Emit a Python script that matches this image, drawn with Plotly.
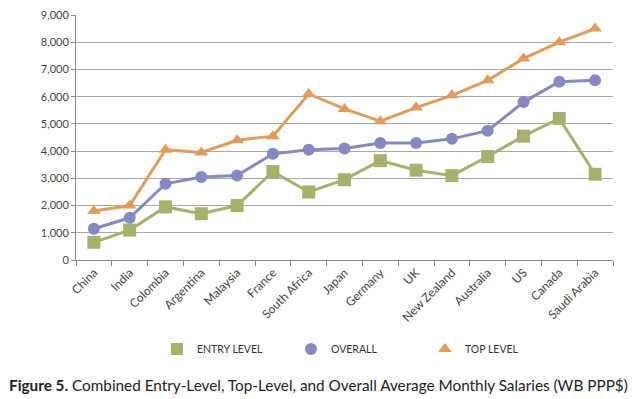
import plotly.graph_objects as go

countries = ["China", "India", "Colombia", "Argentina", "Malaysia", "France",
             "South Africa", "Japan", "Germany", "UK", "New Zealand", "Australia",
             "US", "Canada", "Saudi Arabia"]
entry_level = [650, 1100, 1950, 1700, 2000, 3250, 2500, 2950, 3650, 3300, 3100, 3800, 4550, 5200, 3150]
overall = [1150, 1550, 2800, 3050, 3100, 3900, 4050, 4100, 4300, 4300, 4450, 4750, 5800, 6550, 6600]
top_level = [1800, 2000, 4050, 3950, 4400, 4550, 6100, 5550, 5100, 5600, 6050, 6600, 7400, 8000, 8500]
y_ticks = [0, 1000, 2000, 3000, 4000, 5000, 6000, 7000, 8000, 9000]

GREEN = "#a8b06c"
BLUE = "#8589c2"
ORANGE = "#e19c5c"
FONT = "Lato"

# the page body adds an 8px offset; figure is sized to fill the rest of the window
W, H = 632, 391
PL, PR, PT, PB = 68, 27, 7, 139
PW = W - PL - PR
PH = H - PT - PB

fig = go.Figure()

series = [
    ("ENTRY LEVEL", entry_level, GREEN, "square", 13),
    ("OVERALL", overall, BLUE, "circle", 12),
    ("TOP LEVEL", top_level, ORANGE, "triangle-up", 12),
]

for name, vals, col, sym, sz in series:
    fig.add_trace(go.Scatter(
        x=countries, y=vals, mode="lines+markers", name=name,
        line=dict(color=col, width=3),
        marker=dict(color=col, symbol=sym, size=sz),
        showlegend=False,
    ))

for name, vals, col, sym, sz in series:
    fig.add_trace(go.Scatter(
        x=[None], y=[None], mode="markers", name=name,
        marker=dict(color=col, symbol=sym, size=12),
        showlegend=True,
    ))

fig.update_layout(
    width=W, height=H,
    margin=dict(l=PL, r=PR, t=PT, b=PB, autoexpand=False),
    paper_bgcolor="white", plot_bgcolor="white",
    font=dict(family=FONT, color="#333333", size=10),
    showlegend=True,
    legend=dict(
        orientation="h", x=(157 - 76) / PW, xanchor="left",
        y=(260 - 349) / PH, yanchor="middle",
        font=dict(family=FONT, size=10.5, color="#333333"),
        entrywidth=89, entrywidthmode="pixels",
        itemclick=False, itemdoubleclick=False,
    ),
    annotations=[dict(
        text="<b>Figure 5.</b> Combined Entry-Level, Top-Level, and Overall Average Monthly Salaries (WB PPP$)",
        xref="paper", x=(7 - 76) / PW, xanchor="left",
        yref="paper", y=(260 - 385) / PH, yanchor="middle",
        showarrow=False,
        font=dict(family=FONT, size=15.3, color="#222222"),
    )],
)

fig.update_xaxes(
    type="category", tickangle=-45, tickson="boundaries",
    ticks="outside", ticklen=5, tickcolor="#888888",
    showline=True, linecolor="#888888", linewidth=1,
    showgrid=False, range=[-0.5, 14.5],
    tickfont=dict(family=FONT, size=12, color="#444444"),
)
fig.update_yaxes(
    range=[0, 9000], tickvals=y_ticks,
    ticktext=[f"{v:,}" for v in y_ticks],
    ticklabeloverflow="allow",
    showgrid=True, gridcolor="#a8a8a8", gridwidth=1,
    showline=True, linecolor="#888888", linewidth=1,
    ticks="outside", ticklen=4, tickcolor="#888888",
    zeroline=False,
    tickfont=dict(family=FONT, size=11, color="#444444"),
)

fig.write_html("out.html")
